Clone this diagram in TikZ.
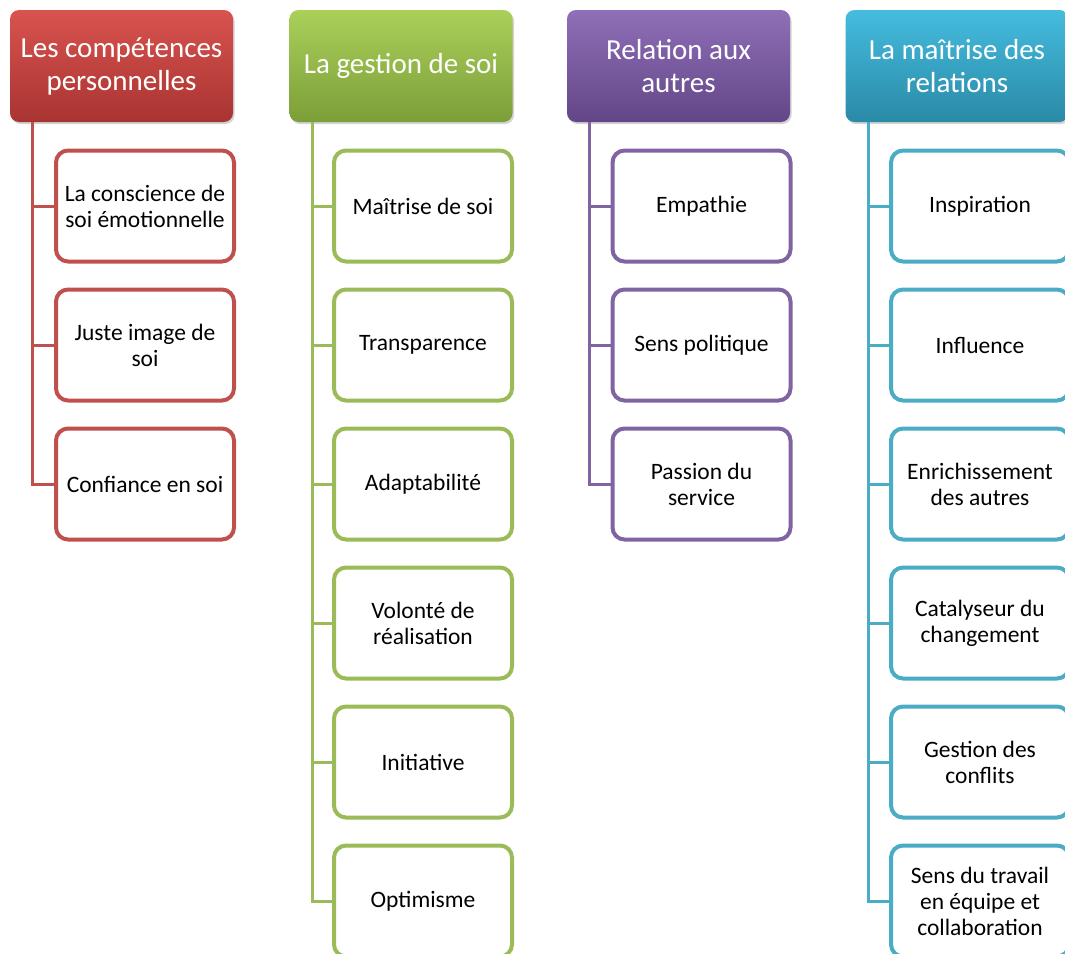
\documentclass[tikz,border=0pt]{standalone}
\usepackage{fontspec}
\setmainfont{Carlito}
\usetikzlibrary{shadows}
\definecolor{cred}{HTML}{C0504D}
\definecolor{credT}{HTML}{D9534F}
\definecolor{credB}{HTML}{A83431}
\definecolor{cgreen}{HTML}{9BBB59}
\definecolor{cgreenT}{HTML}{AAD05A}
\definecolor{cgreenB}{HTML}{7C9E38}
\definecolor{cpurple}{HTML}{8064A2}
\definecolor{cpurpleT}{HTML}{8F6FB8}
\definecolor{cpurpleB}{HTML}{634687}
\definecolor{ccyan}{HTML}{4BACC6}
\definecolor{ccyanT}{HTML}{45BCDF}
\definecolor{ccyanB}{HTML}{2A8AA6}
\begin{document}
\begin{tikzpicture}[x=1pt,y=-1pt,
  hdr/.style={rounded corners=9pt, minimum width=223pt, minimum height=112pt,
    text=white, font=\fontsize{29}{33}\selectfont, align=center, inner sep=0pt,
    drop shadow={shadow xshift=1.5pt, shadow yshift=-2pt, opacity=0.35}},
  child/.style={draw=#1, line width=4pt, rounded corners=12pt, fill=white,
    minimum width=178pt, minimum height=111pt, inner sep=0pt, align=center,
    font=\fontsize{23.5}{26}\selectfont},
  conn/.style={draw=#1, line width=3pt}
]
\useasboundingbox (0,0) rectangle (1065,953);
\clip (0,0) rectangle (1065,953);

% headers
\node[hdr, top color=credT, bottom color=credB] (h1) at (121.5,66) {Les compétences\\personnelles};
\node[hdr, top color=cgreenT, bottom color=cgreenB] (h2) at (401,66) {La gestion de soi};
\node[hdr, top color=cpurpleT, bottom color=cpurpleB] (h3) at (678.5,66) {Relation aux\\autres};
\node[hdr, top color=ccyanT, bottom color=ccyanB] (h4) at (957,66) {La maîtrise des\\relations};

\coordinate (t1) at ([xshift=23pt]h1.south west);
\coordinate (t2) at ([xshift=23pt]h2.south west);
\coordinate (t3) at ([xshift=23pt]h3.south west);
\coordinate (t4) at ([xshift=23pt]h4.south west);

% column 1
\node[child=cred] (a1) at (145,206) {La conscience de\\soi émotionnelle};
\node[child=cred] (a2) at (145,345) {Juste image de\\soi};
\node[child=cred] (a3) at (145,484) {Confiance en soi};
% column 2
\node[child=cgreen] (b1) at (423,206) {Maîtrise de soi};
\node[child=cgreen] (b2) at (423,345) {Transparence};
\node[child=cgreen] (b3) at (423,484) {Adaptabilité};
\node[child=cgreen] (b4) at (423,623) {Volonté de\\réalisation};
\node[child=cgreen] (b5) at (423,762) {Initiative};
\node[child=cgreen] (b6) at (423,901) {Optimisme};
% column 3
\node[child=cpurple] (c1) at (701.5,206) {Empathie};
\node[child=cpurple] (c2) at (701.5,345) {Sens politique};
\node[child=cpurple] (c3) at (701.5,484) {Passion du\\service};
% column 4
\node[child=ccyan] (d1) at (980,206) {Inspiration};
\node[child=ccyan] (d2) at (980,345) {Influence};
\node[child=ccyan] (d3) at (980,484) {Enrichissement\\des autres};
\node[child=ccyan] (d4) at (980,623) {Catalyseur du\\changement};
\node[child=ccyan] (d5) at (980,762) {Gestion des\\conflits};
\node[child=ccyan] (d6) at (980,901) {Sens du travail\\en équipe et\\collaboration};

% connectors
\foreach \n in {a1,a2,a3} \draw[conn=cred] (t1) |- (\n.west);
\foreach \n in {b1,b2,b3,b4,b5,b6} \draw[conn=cgreen] (t2) |- (\n.west);
\foreach \n in {c1,c2,c3} \draw[conn=cpurple] (t3) |- (\n.west);
\foreach \n in {d1,d2,d3,d4,d5,d6} \draw[conn=ccyan] (t4) |- (\n.west);
\end{tikzpicture}
\end{document}
